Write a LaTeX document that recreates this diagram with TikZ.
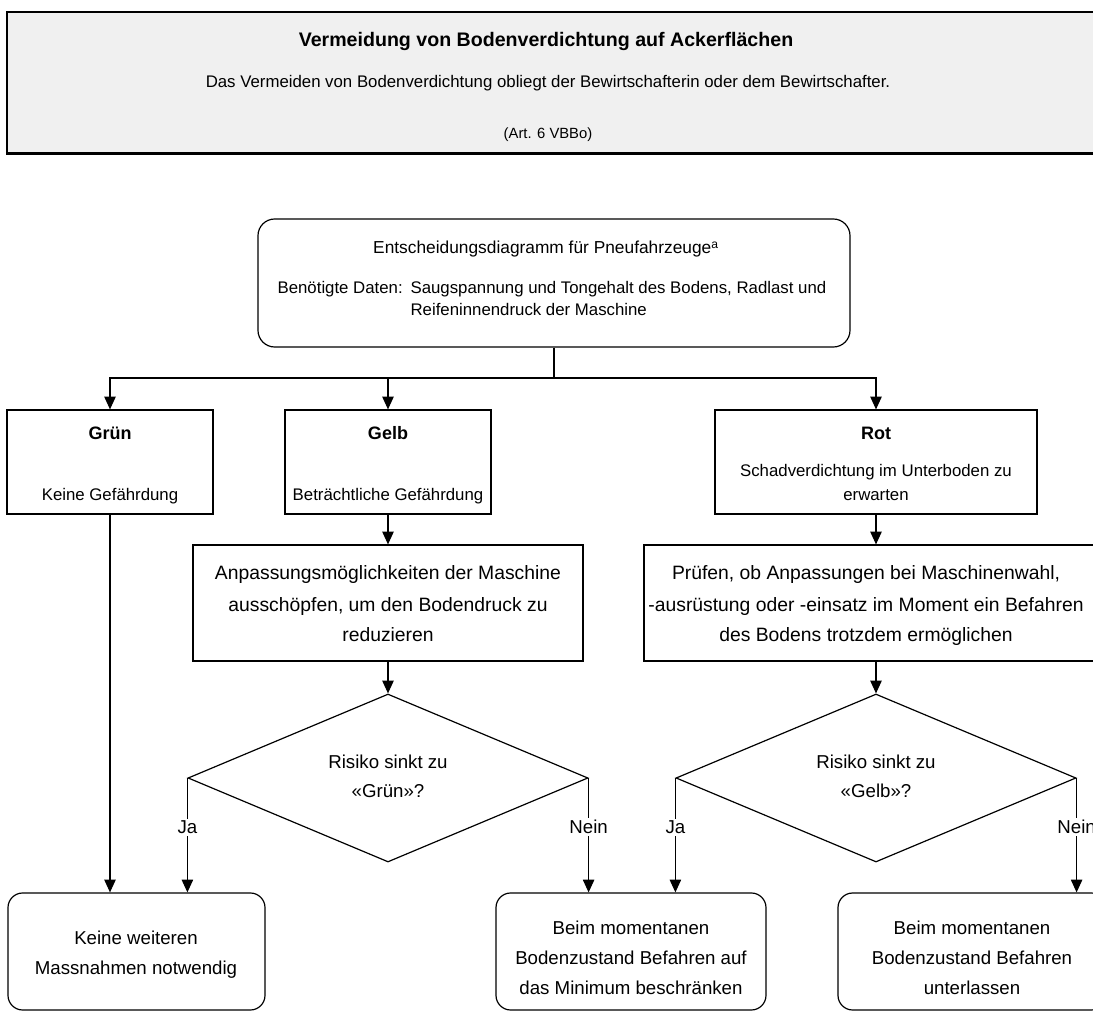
\documentclass[tikz,border=0pt]{standalone}
\usepackage{fontspec}
\setmainfont{Liberation Sans}
\usetikzlibrary{arrows.meta,fit,shapes.geometric}
\definecolor{bannerfill}{HTML}{F0F0F0}
\begin{document}
\begin{tikzpicture}[x=0.75pt,y=-0.75pt,
  line width=0.9pt,
  box/.style={draw, inner sep=0pt, line width=0.9pt},
  rbox/.style={box, rounded corners=11pt},
  arr/.style={-{Triangle[length=9.5pt,width=8.5pt]}, line width=0.9pt},
  body/.style={anchor=base, inner sep=0pt, font=\fontsize{12.6}{15}\selectfont},
  bodyw/.style={body, anchor=base west},
  big/.style={anchor=base, inner sep=0pt, font=\fontsize{14.5}{17}\selectfont},
  mid/.style={anchor=base, inner sep=0pt, font=\fontsize{14}{17}\selectfont},
  head/.style={anchor=base, inner sep=0pt, font=\fontsize{13.5}{16}\selectfont\bfseries},
  lbl/.style={fill=white, inner sep=1.5pt, font=\fontsize{14}{17}\selectfont},
]
\useasboundingbox (0,0) rectangle (1093,1012);
\clip (0,0) rectangle (1093,1012);

% banner
\node[box, fill=bannerfill, fit={(7,12) (1110,153)}] (banner) {};
\draw[line width=1.6pt] (banner.south west) -- (banner.south east);
\node[anchor=base, inner sep=0pt, font=\fontsize{14.7}{17}\selectfont\bfseries] (title) at (546,47) {Vermeidung von Bodenverdichtung auf Ackerflächen};
\node[body] (subtitle) at (548,88) {Das Vermeiden von Bodenverdichtung obliegt der Bewirtschafterin oder dem Bewirtschafter.};
\node[anchor=base, inner sep=0pt, font=\fontsize{11.1}{13}\selectfont] (art) at (548,139) {(Art. 6 VBBo)};

% top box
\node[rbox, rounded corners=12.5pt, fit={(258,219) (850,347)}] (top) {};
\node[anchor=base, inner sep=0pt, font=\fontsize{13}{15}\selectfont] (topl1) at (546,254) {Entscheidungsdiagramm für Pneufahrzeuge\textsuperscript{a}};
\node[bodyw] (topl2a) at (277,294) {Benötigte Daten:};
\node[bodyw] (topl2b) at (410,294) {Saugspannung und Tongehalt des Bodens, Radlast und};
\node[bodyw] (topl3) at (410,316) {Reifeninnendruck der Maschine};

% level 1 boxes
\node[box, fit={(7,410) (213,514)}] (gruen) {};
\node[head] (gruenh) at (110,440) {Grün};
\node[body] (gruent) at (110,501) {Keine Gefährdung};

\node[box, fit={(285,410) (491,514)}] (gelb) {};
\node[head] (gelbh) at (388,440) {Gelb};
\node[body] (gelbt) at (388,501) {Beträchtliche Gefährdung};

\node[box, fit={(715,410) (1037,514)}] (rot) {};
\node[head] (roth) at (876,440) {Rot};
\node[body] (rott1) at (876,477) {Schadverdichtung im Unterboden zu};
\node[body] (rott2) at (876,501) {erwarten};

% connectors from top box
\coordinate (join) at (554,378);
\draw (top.south) -- (join);
\draw[arr] (join) -| (gruen.north);
\draw[arr] (join) -| (gelb.north);
\draw[arr] (join) -| (rot.north);

% adaptation boxes
\node[box, fit={(193,545) (583,661)}] (gadapt) {};
\node[big] (ga1) at (388,580) {Anpassungsmöglichkeiten der Maschine};
\node[big] (ga2) at (388,611) {ausschöpfen, um den Bodendruck zu};
\node[big] (ga3) at (388,641) {reduzieren};

\node[box, fit={(644,545) (1136,661)}] (radapt) {};
\node[big] (ra1) at (866,580) {Prüfen, ob Anpassungen bei Maschinenwahl,};
\node[big] (ra2) at (866,611) {-ausrüstung oder -einsatz im Moment ein Befahren};
\node[big] (ra3) at (866,641) {des Bodens trotzdem ermöglichen};

\draw[arr] (gelb.south) -- (gadapt.north);
\draw[arr] (rot.south) -- (rot.south |- radapt.north);

% diamonds
\node[diamond, draw, inner sep=0pt, minimum width=300pt, minimum height=126pt] (d1) at (388,778) {};
\node[mid] (d1t1) at (388,768) {Risiko sinkt zu};
\node[mid] (d1t2) at (388,797) {«Grün»?};

\node[diamond, draw, inner sep=0pt, minimum width=300pt, minimum height=126pt] (d2) at (876,778) {};
\node[mid] (d2t1) at (876,768) {Risiko sinkt zu};
\node[mid] (d2t2) at (876,797) {«Gelb»?};

\draw[arr] (gadapt.south) -- (d1.north);
\draw[arr] (d2.north |- radapt.south) -- (d2.north);

% result boxes
\node[rbox, fit={(8,893) (265,1010)}] (res1) {};
\node[mid] (r1a) at (136,944) {Keine weiteren};
\node[mid] (r1b) at (136,974) {Massnahmen notwendig};

\node[rbox, fit={(496,893) (766,1010)}] (res2) {};
\node[mid] (r2a) at (631,934) {Beim momentanen};
\node[mid] (r2b) at (631,964) {Bodenzustand Befahren auf};
\node[mid] (r2c) at (631,994) {das Minimum beschränken};

\node[rbox, fit={(838,893) (1106,1010)}] (res3) {};
\node[mid] (r3a) at (972,934) {Beim momentanen};
\node[mid] (r3b) at (972,964) {Bodenzustand Befahren};
\node[mid] (r3c) at (972,994) {unterlassen};

% final connectors
\draw[arr] (gruen.south) -- (gruen.south |- res1.north);
\draw[arr] (d1.west) -- node[lbl, pos=0.43] (ja1) {Ja} (d1.west |- res1.north);
\draw[arr] (d1.east) -- node[lbl, pos=0.43] (nein1) {Nein} (d1.east |- res2.north);
\draw[arr] (d2.west) -- node[lbl, pos=0.43] (ja2) {Ja} (d2.west |- res2.north);
\draw[arr] (d2.east) -- node[lbl, pos=0.43] (nein2) {Nein} (d2.east |- res3.north);
\end{tikzpicture}
\end{document}
